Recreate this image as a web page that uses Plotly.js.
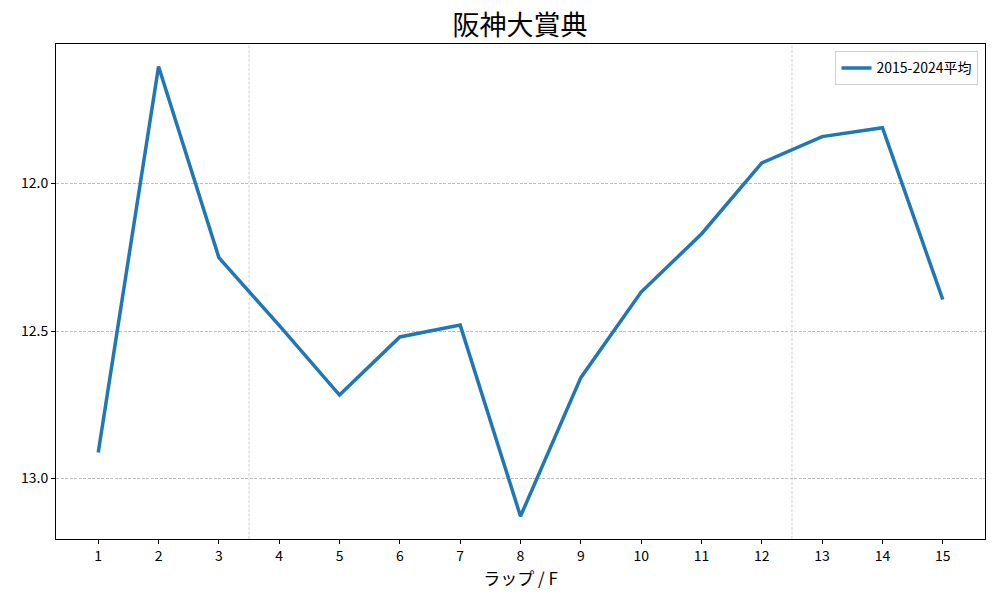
<!DOCTYPE html>
<html>
<head>
<meta charset="utf-8">
<script src="https://cdn.plot.ly/plotly-3.0.1.min.js"></script>
<style>html,body{margin:0;padding:0;background:#fff}#chart{width:1000px;height:600px}</style>
</head>
<body>
<div id="chart"></div>
<script>
const laps = [1,2,3,4,5,6,7,8,9,10,11,12,13,14,15];
const avgTimes = [12.912,11.603,12.251,12.481,12.717,12.520,12.480,13.128,12.658,12.368,12.171,11.930,11.841,11.811,12.393];
const seriesName = '2015-2024平均';
const sectionLines = [3.5, 12.5];
const yTicks = [12.0, 12.5, 13.0];
const yTickText = ['12.0', '12.5', '13.0'];

const font = '"Noto Sans CJK JP", "Noto Sans", sans-serif';
const gridDash = '3px,1.5px';

const shapes = sectionLines.map(x => ({
  type: 'line', xref: 'x', yref: 'paper', x0: x, x1: x, y0: 0, y1: 1,
  line: {color: '#bdbdbd', width: 0.7, dash: gridDash}, layer: 'below'
}));

Plotly.newPlot('chart', [{
  x: laps, y: avgTimes, type: 'scatter', mode: 'lines', name: seriesName,
  line: {color: '#1f77b4', width: 3.5}
}], {
  width: 1000, height: 600,
  margin: {l: 56, r: 15, t: 44, b: 61},
  paper_bgcolor: '#fff', plot_bgcolor: '#fff',
  font: {family: font, color: '#000', size: 14},
  title: {text: '阪神大賞典', font: {family: font, size: 27, color: '#000'}, x: 0.52, xanchor: 'center', y: 0.958, yanchor: 'middle'},
  showlegend: true,
  legend: {x: 0.993, y: 0.985, xanchor: 'right', yanchor: 'top', bordercolor: '#d0d0d0', borderwidth: 1, bgcolor: 'rgba(255,255,255,0.8)', font: {family: font, size: 14}, itemwidth: 30},
  xaxis: {
    range: [0.3, 15.7], tickmode: 'array', tickvals: laps, ticktext: laps.map(String),
    showgrid: false, zeroline: false, showline: true, mirror: true, linecolor: '#000', linewidth: 1,
    ticks: 'outside', ticklen: 4, tickcolor: '#000', tickfont: {size: 14},
    title: {text: 'ラップ / F', font: {family: font, size: 17}, standoff: 6}
  },
  yaxis: {
    range: [13.205, 11.527], tickmode: 'array', tickvals: yTicks, ticktext: yTickText,
    showgrid: true, gridcolor: '#bdbdbd', griddash: gridDash, gridwidth: 0.7,
    zeroline: false, showline: true, mirror: true, linecolor: '#000', linewidth: 1,
    ticks: 'outside', ticklen: 4, tickcolor: '#000', tickfont: {size: 14}
  },
  shapes: shapes
}, {displayModeBar: false});
</script>
</body>
</html>
